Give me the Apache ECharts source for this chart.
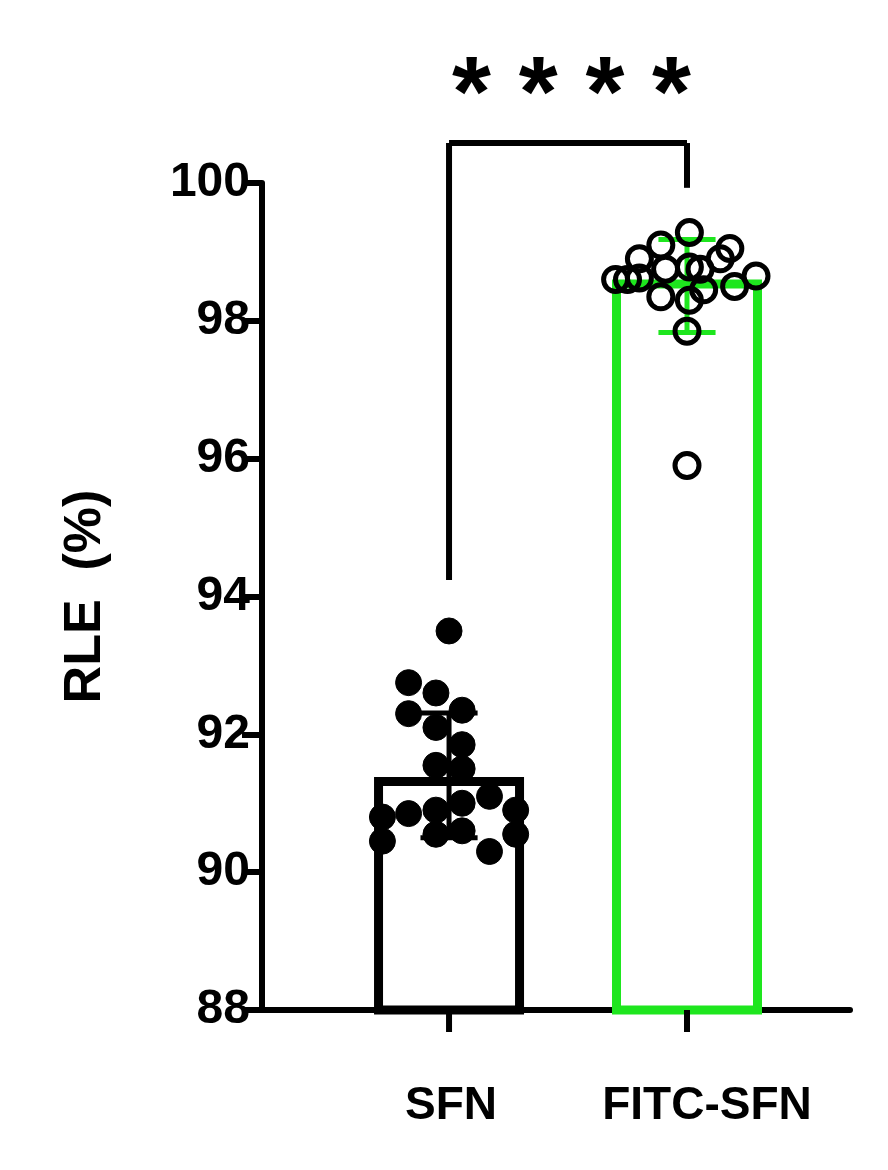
<!DOCTYPE html>
<html>
<head>
<meta charset="utf-8">
<script src="https://cdn.jsdelivr.net/npm/echarts@6/dist/echarts.min.js"></script>
<style>html,body{margin:0;padding:0;background:#fff}#chart{width:888px;height:1170px}</style>
</head>
<body>
<div id="chart"></div>
<script>
// groups, bar means and SD error bars
const categories = ['SFN', 'FITC-SFN'];
const means = [91.38, 98.6];
const errLow = [90.5, 97.83];
const errHigh = [92.31, 99.18];
const barColors = ['#000000', '#1ee61e'];

// individual points: [x offset from group centre, value]
const sfnPoints = [
    [0, 93.5], [-0.17, 92.75], [-0.055, 92.6], [-0.17, 92.3], [0.055, 92.35],
    [-0.055, 92.1], [0.055, 91.85], [-0.055, 91.55], [0.055, 91.5], [0.17, 91.1],
    [-0.28, 90.8], [-0.17, 90.85], [-0.055, 90.9], [0.055, 91.0], [0.28, 90.9],
    [-0.28, 90.45], [-0.055, 90.55], [0.055, 90.6], [0.28, 90.55], [0.17, 90.3]
];
const fitcPoints = [
    [0.01, 99.28], [-0.11, 99.1], [-0.2, 98.9], [-0.3, 98.6], [-0.25, 98.6],
    [-0.2, 98.62], [-0.09, 98.75], [0.01, 98.78], [0.055, 98.75], [0.14, 98.9],
    [0.18, 99.05], [0.29, 98.65], [0.2, 98.5], [-0.11, 98.35], [0.01, 98.3],
    [0.07, 98.45], [0, 97.85], [0, 95.9]
];
const bracket = {left: 94.24, top: 100.58, right: 99.93};

const chart = echarts.init(document.getElementById('chart'));

function lineSeries(draw) {
    return {
        type: 'custom',
        clip: false,
        silent: true,
        data: [0],
        renderItem: function (params, api) {
            return {type: 'group', children: draw(api)};
        },
        z: 5
    };
}
function seg(api, x1, y1, x2, y2, color, w) {
    const a = api.coord([x1, y1]), b = api.coord([x2, y2]);
    return {type: 'line', shape: {x1: a[0], y1: a[1], x2: b[0], y2: b[1]},
        style: {stroke: color, lineWidth: w}};
}

chart.setOption({
    animation: false,
    grid: {left: 262, right: 38, top: 183, bottom: 160},
    xAxis: {
        type: 'value', min: -0.786, max: 1.685,
        axisLine: {show: true, onZero: false, lineStyle: {color: '#000', width: 6}},
        axisTick: {show: false}, axisLabel: {show: false}, splitLine: {show: false}
    },
    yAxis: {
        type: 'value', min: 88, max: 100, interval: 2,
        name: 'RLE  (%)', nameLocation: 'middle', nameGap: 150, nameRotate: 90,
        nameTextStyle: {fontFamily: 'Liberation Sans', fontWeight: 'bold', fontSize: 52, color: '#000'},
        axisLine: {show: true, onZero: false, lineStyle: {color: '#000', width: 6}},
        axisTick: {show: true, length: 20, lineStyle: {color: '#000', width: 6}},
        axisLabel: {fontFamily: 'Liberation Sans', fontWeight: 'bold', fontSize: 48, color: '#000', margin: 12},
        splitLine: {show: false}
    },
    graphic: [{
        type: 'text', left: 452, top: 48,
        style: {text: '* * * *', fontFamily: 'Liberation Sans', fontWeight: 'bold', fontSize: 100, fill: '#000'}
    }],
    series: [
        {
            type: 'bar', barWidth: 150, z: 2,
            data: means.map(function (m, i) {
                return {value: [i, m], itemStyle: {color: '#fff', borderColor: barColors[i], borderWidth: 9}};
            })
        },
        lineSeries(function (api) {
            const out = [];
            means.forEach(function (m, i) {
                out.push(seg(api, i, errLow[i], i, errHigh[i], barColors[i], 5));
                out.push(seg(api, i - 0.12, errLow[i], i + 0.12, errLow[i], barColors[i], 5));
                out.push(seg(api, i - 0.12, errHigh[i], i + 0.12, errHigh[i], barColors[i], 5));
                // x tick
                const p = api.coord([i, 88]);
                out.push({type: 'line', shape: {x1: p[0], y1: p[1], x2: p[0], y2: p[1] + 22},
                    style: {stroke: '#000', lineWidth: 6}});
            });
            out.push(seg(api, 0, bracket.left, 0, bracket.top, '#000', 6));
            out.push(seg(api, 0, bracket.top, 1, bracket.top, '#000', 6));
            out.push(seg(api, 1, bracket.top, 1, bracket.right, '#000', 6));
            return out;
        }),
        {
            type: 'scatter', z: 6, symbolSize: 26,
            itemStyle: {color: '#000', borderColor: '#000', borderWidth: 1, opacity: 1},
            data: sfnPoints.map(function (p) { return [p[0], p[1]]; })
        },
        {
            type: 'scatter', z: 6, symbolSize: 24,
            itemStyle: {color: 'rgba(255,255,255,0)', borderColor: '#000', borderWidth: 5, opacity: 1},
            data: fitcPoints.map(function (p) { return [1 + p[0], p[1]]; })
        },
        {
            type: 'custom', clip: false, silent: true, z: 7,
            data: categories.map(function (c, i) { return [i, 88]; }),
            renderItem: function (params, api) {
                const p = api.coord([api.value(0), 88]);
                return {type: 'text', x: p[0] + (params.dataIndex === 1 ? 20 : 2), y: p[1] + 96,
                    style: {text: categories[params.dataIndex], fontFamily: 'Liberation Sans', fontWeight: 'bold',
                        fontSize: 46, fill: '#000', align: 'center', verticalAlign: 'middle'}};
            }
        }
    ]
});
window.addEventListener('resize', function () { chart.resize(); });
</script>
</body>
</html>
